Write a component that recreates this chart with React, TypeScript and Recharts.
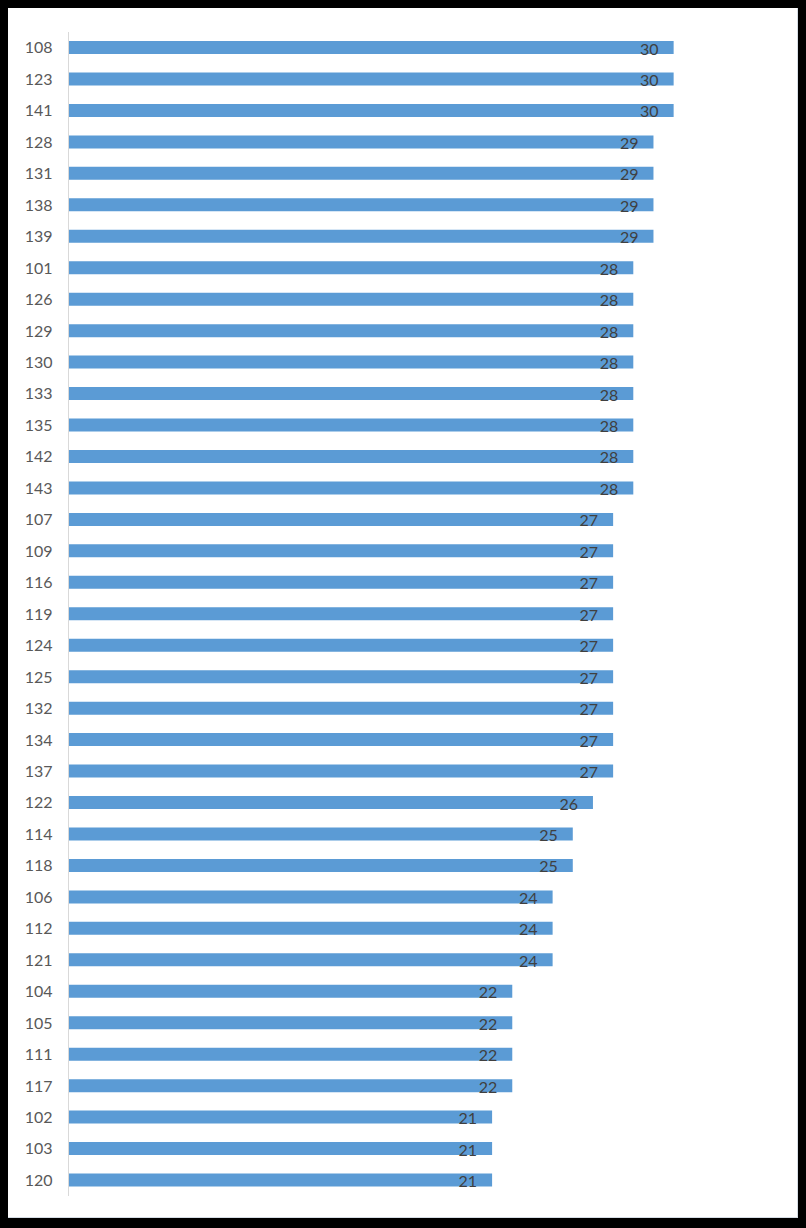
import React from "react";
import { BarChart, Bar, XAxis, YAxis, LabelList } from "recharts";

const ids = [
  "108", "123", "141", "128", "131", "138", "139", "101", "126", "129",
  "130", "133", "135", "142", "143", "107", "109", "116", "119", "124",
  "125", "132", "134", "137", "122", "114", "118", "106", "112", "121",
  "104", "105", "111", "117", "102", "103", "120",
];

const scores = [
  30, 30, 30, 29, 29, 29, 29, 28, 28, 28,
  28, 28, 28, 28, 28, 27, 27, 27, 27, 27,
  27, 27, 27, 27, 26, 25, 25, 24, 24, 24,
  22, 22, 22, 22, 21, 21, 21,
];

const data = ids.map((id, i) => ({ id, score: scores[i] }));

const FONT = "Lato, 'Open Sans', sans-serif";

// value sits inside the bar end, a bit below the middle
const ValueLabel = (props: any) => {
  const { x, y, width, height, value } = props;
  return (
    <text
      x={x + width - 15}
      y={y + height / 2 + 7}
      textAnchor="end"
      fill="#404040"
      fontSize={16}
      fontFamily={FONT}
    >
      {value}
    </text>
  );
};

export default function App() {
  return (
    <div style={{ position: "absolute", left: 0, top: 0, width: 806, height: 1228, background: "#000" }}>
      <div
        style={{
          position: "absolute",
          left: 8,
          top: 8,
          width: 789,
          height: 1209,
          background: "#fff",
          borderRight: "1px solid #d6dde5",
          borderBottom: "1px solid #d6dde5",
        }}
      />
      <div style={{ position: "absolute", left: 0, top: 0 }}>
        <BarChart
          width={806}
          height={1228}
          data={data}
          layout="vertical"
          margin={{ top: 32, right: 31.5, bottom: 32, left: 0.5 }}
          barSize={13}
        >
          <XAxis type="number" domain={[0, 35]} hide />
          <YAxis
            type="category"
            dataKey="id"
            width={68}
            axisLine={{ stroke: "#d9d9d9", strokeWidth: 1 }}
            tickLine={false}
            tickSize={6}
            tickMargin={10}
            interval={0}
            tick={{ fill: "#595959", fontSize: 16, fontFamily: FONT }}
          />
          <Bar dataKey="score" fill="#5b9bd5" isAnimationActive={false}>
            <LabelList dataKey="score" content={<ValueLabel />} />
          </Bar>
        </BarChart>
      </div>
    </div>
  );
}
